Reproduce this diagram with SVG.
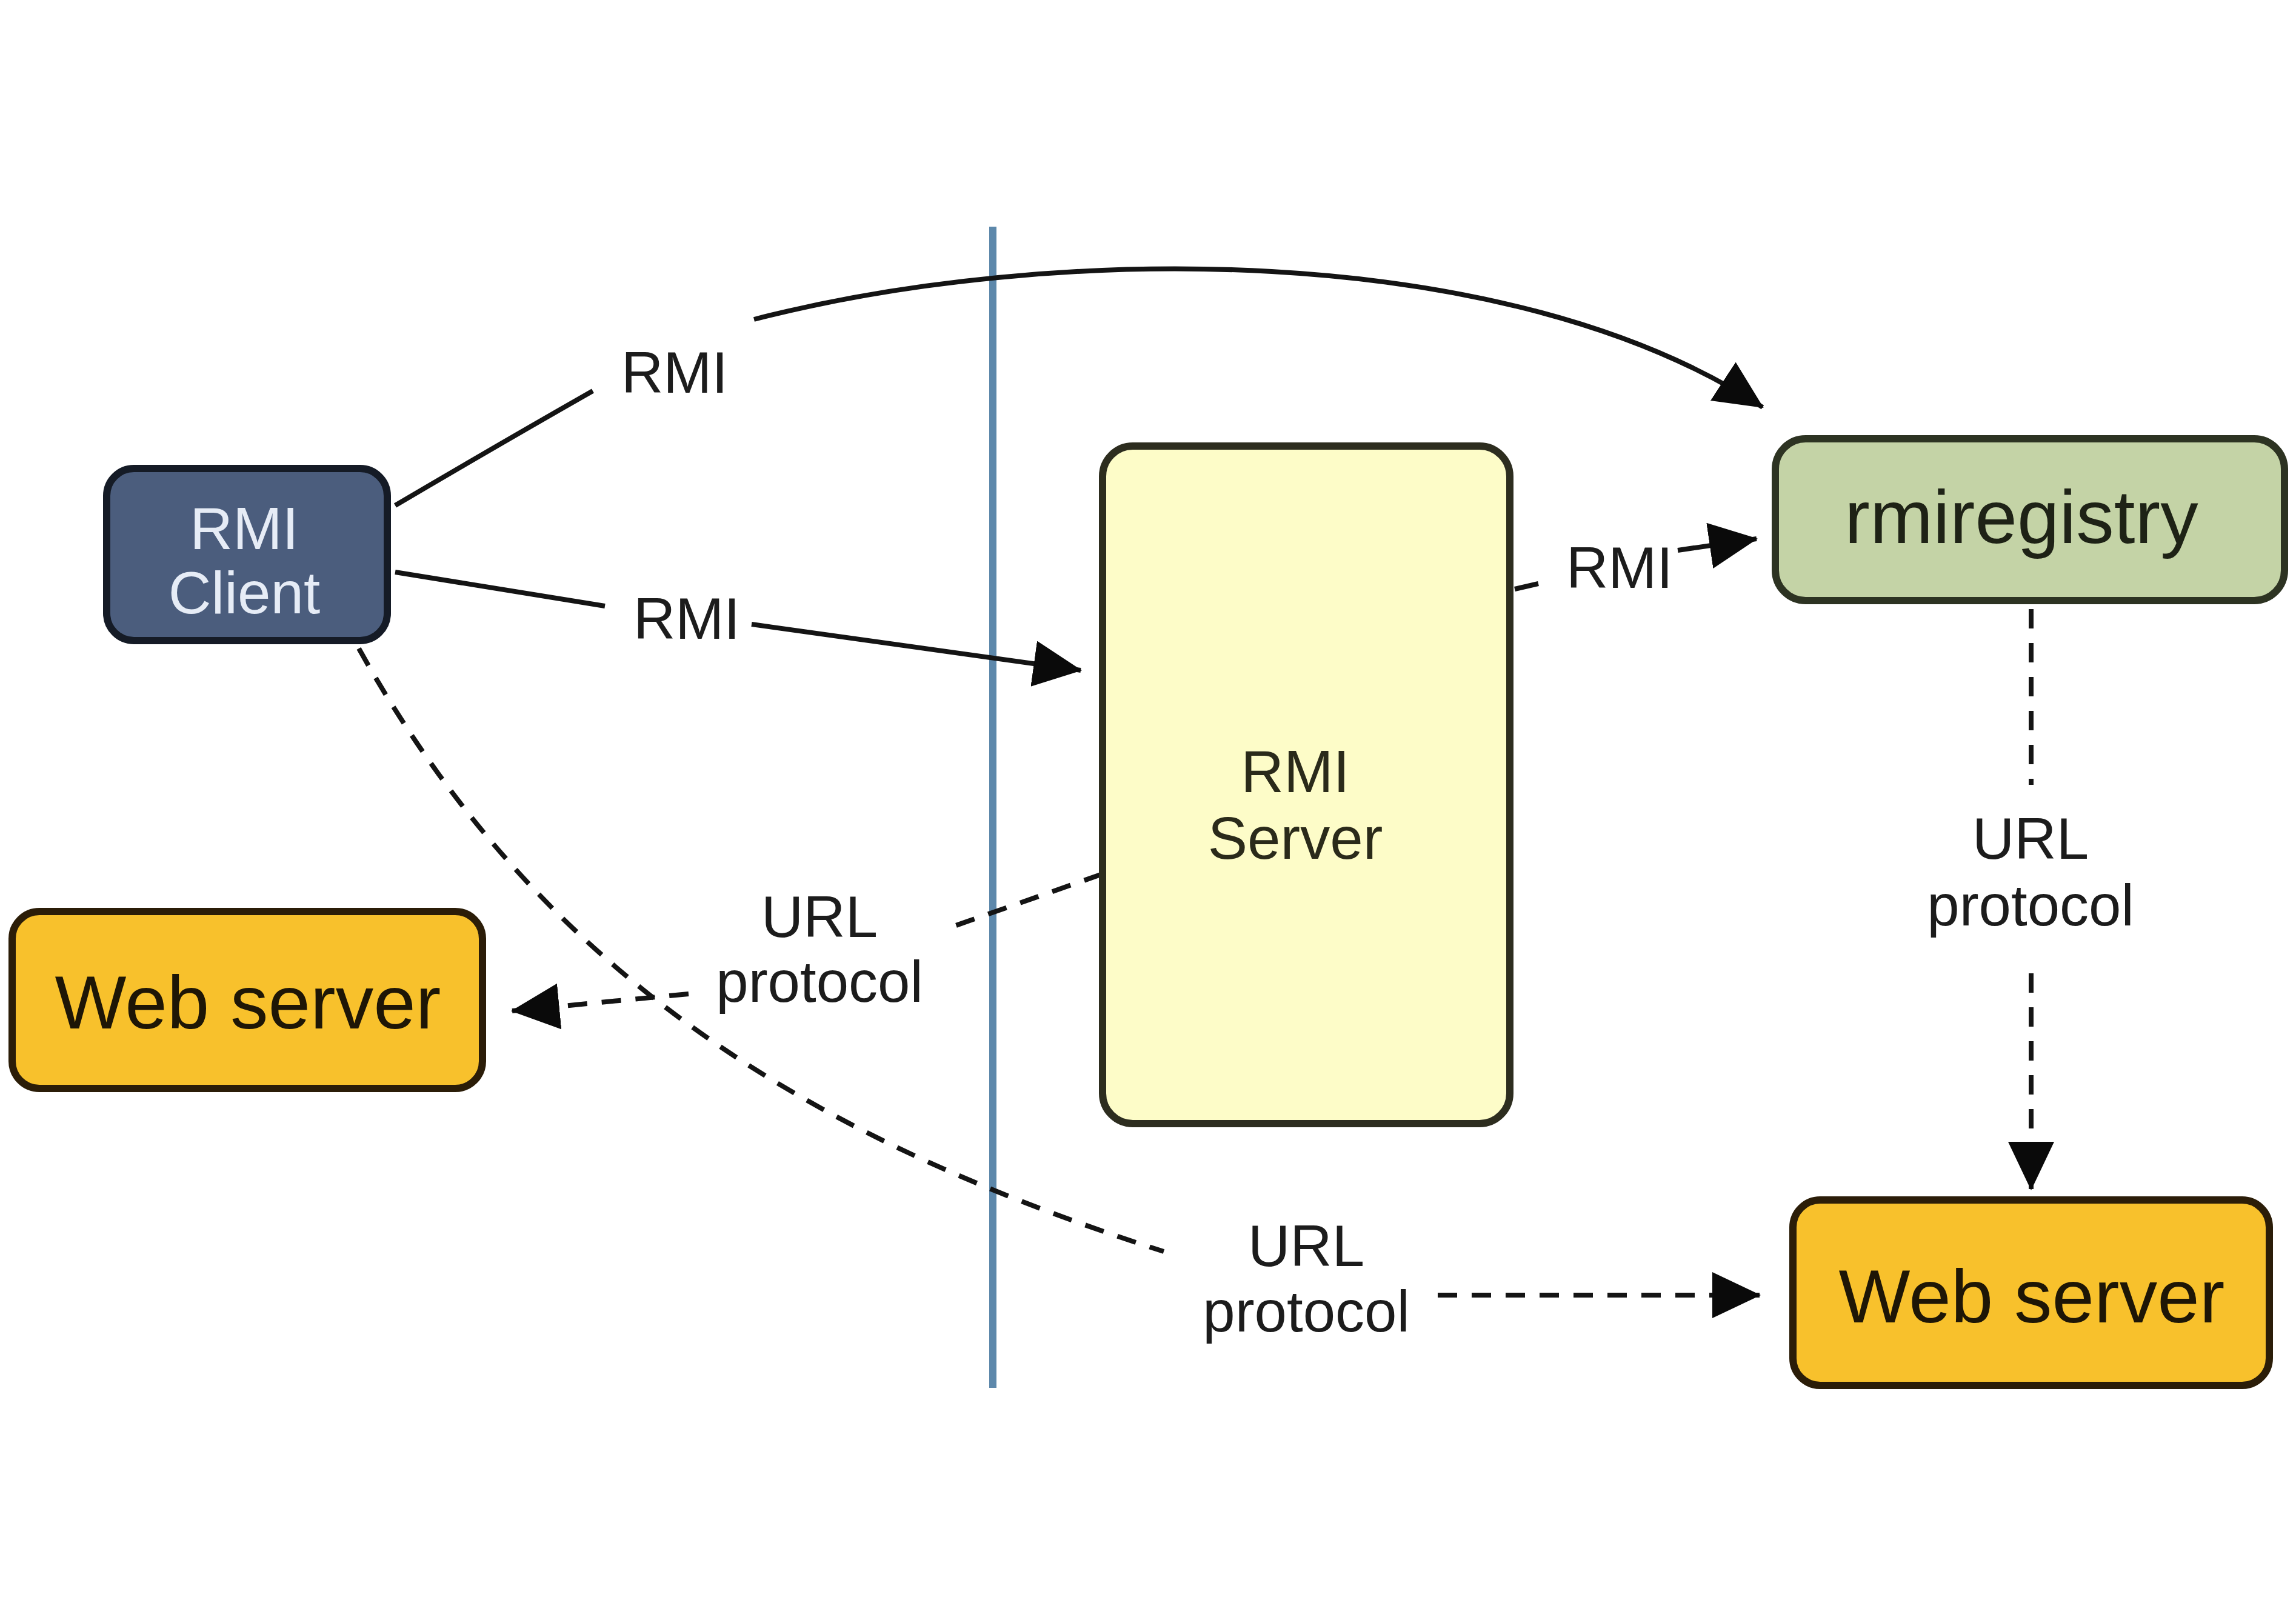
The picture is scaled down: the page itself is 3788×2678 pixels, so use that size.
<svg xmlns="http://www.w3.org/2000/svg" width="3788" height="2678" viewBox="0 0 3788 2678">
<style>
.box{stroke-width:12}
.lbl{font-family:"Liberation Sans",Arial,sans-serif;font-size:96px;fill:#1c1c1c;text-anchor:middle}
.ntxt{font-family:"Liberation Sans",Arial,sans-serif;text-anchor:middle}
.con{fill:none;stroke:#141414;stroke-width:8}
.dash{stroke-dasharray:32 24}
</style>
<defs>
<marker id="arr" markerUnits="userSpaceOnUse" markerWidth="84" markerHeight="80" refX="78" refY="38" orient="auto">
<path d="M0,0 L80,38 L0,76 z" fill="#0a0a0a"/>
</marker>
</defs>
<rect width="3788" height="2678" fill="#ffffff"/>
<line x1="1638" y1="374" x2="1638" y2="2290" stroke="#5d88ab" stroke-width="12"/>
<g id="connectors">
<path class="con" d="M652,834 Q820,735 978,645"/>
<path class="con" d="M1244,527 C1729,402 2482,393 2908,672" marker-end="url(#arr)"/>
<path class="con" d="M652,944 L998,1000"/>
<path class="con" d="M1240,1030 L1783,1106" marker-end="url(#arr)"/>
<path class="con" d="M2499,972 L2538,963"/>
<path class="con" d="M2768,908 L2898,889" marker-end="url(#arr)"/>
<path class="con dash" d="M1819,1442 L1560,1533"/>
<path class="con dash" d="M1136,1640 L845,1668" marker-end="url(#arr)"/>
<path class="con dash" d="M592,1070 C884,1594 1310,1870 1920,2065"/>
<path class="con dash" d="M2372,2137 L2903,2137" marker-end="url(#arr)"/>
<path class="con dash" d="M3351,1005 L3351,1295"/>
<path class="con dash" d="M3351,1606 L3351,1962" marker-end="url(#arr)"/>
<text class="lbl" x="1113" y="648" font-size="106">RMI</text>
<text class="lbl" x="1133" y="1054" font-size="106">RMI</text>
<text class="lbl" x="2672" y="970" font-size="104">RMI</text>
<text class="lbl" x="1352" y="1546">URL</text>
<text class="lbl" x="1352" y="1653">protocol</text>
<text class="lbl" x="3350" y="1417">URL</text>
<text class="lbl" x="3350" y="1527">protocol</text>
<text class="lbl" x="2155" y="2089">URL</text>
<text class="lbl" x="2155" y="2197">protocol</text>
</g>
<g id="rmi-client">
<rect class="box" x="176" y="773" width="463" height="284" rx="45" fill="#4b5d7d" stroke="#151b26"/>
<text class="ntxt" x="403" y="906" font-size="98" fill="#e6ecf6">RMI</text>
<text class="ntxt" x="403" y="1012" font-size="98" fill="#e6ecf6">Client</text>
</g>
<g id="web-server-left">
<rect class="box" x="20" y="1504" width="776" height="292" rx="45" fill="#f8c12c" stroke="#2b1d08"/>
<text class="ntxt" x="409" y="1697" font-size="125" fill="#1e1606">Web server</text>
</g>
<g id="rmi-server">
<rect class="box" x="1819" y="736" width="672" height="1118" rx="50" fill="#fdfcc8" stroke="#2d2d1f"/>
<text class="ntxt" x="2137" y="1307" font-size="98" fill="#2a2a1a">RMI</text>
<text class="ntxt" x="2137" y="1417" font-size="98" fill="#2a2a1a">Server</text>
</g>
<g id="rmiregistry">
<rect class="box" x="2929" y="724" width="840" height="267" rx="50" fill="#c4d3a6" stroke="#2d3322"/>
<text class="ntxt" x="3335" y="896" font-size="125" fill="#1e2216">rmiregistry</text>
</g>
<g id="web-server-right">
<rect class="box" x="2958" y="1980" width="786" height="306" rx="45" fill="#f8c12c" stroke="#2b1d08"/>
<text class="ntxt" x="3352" y="2182" font-size="125" fill="#1e1606">Web server</text>
</g>
</svg>
